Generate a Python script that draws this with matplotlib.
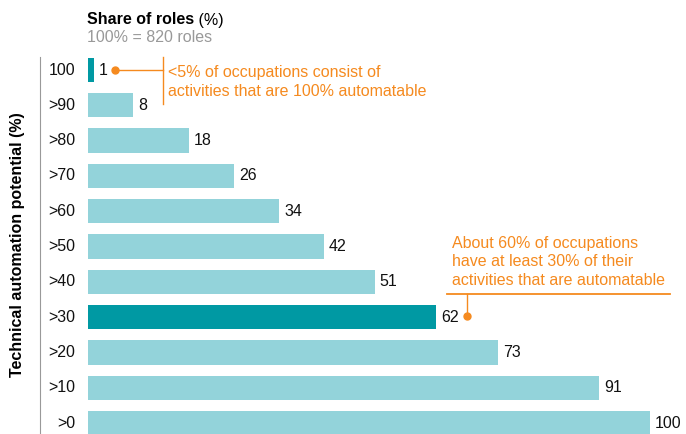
import matplotlib.pyplot as plt

plt.rcParams['font.family'] = ['Liberation Sans', 'DejaVu Sans']

# data
kategoriler = ["100", ">90", ">80", ">70", ">60", ">50", ">40", ">30", ">20", ">10", ">0"]
degerler = [1, 8, 18, 26, 34, 42, 51, 62, 73, 91, 100]
vurgulu = ["100", ">30"]

acik = "#93D3DA"
koyu = "#0099A3"
turuncu = "#F58A1F"

W, H = 686, 434
fig = plt.figure(figsize=(W / 100, H / 100), dpi=100)
fs = 11.5

# axes in pixel terms: x 88..650 for 0..100, full height
ax = fig.add_axes([88 / W, 0, (650 - 88) / W, 1])
ax.set_xlim(0, 100)
aralik = 35.3
ust = 70
ax.set_ylim((H - ust) / aralik, -ust / aralik)
ax.axis("off")

renkler = [koyu if k in vurgulu else acik for k in kategoriler]
ypos = list(range(len(kategoriler)))
ax.barh(ypos, degerler, height=0.69, color=renkler, linewidth=0)

for y, k, v in zip(ypos, kategoriler, degerler):
    ax.text(v + 0.9, y, str(v), va="center", ha="left", fontsize=fs, color="#111111")
    ax.text(-2.3, y, k, va="center", ha="right", fontsize=fs, color="#111111")


def px(x, y):
    return x / W, 1 - y / H


# gray vertical line at left
fig.add_artist(plt.Line2D([40 / W, 40 / W], [1 - 57 / H, 0], color="#999999", lw=0.8))

# axis label
fig.text(*px(18, 245), "Technical automation potential (%)", rotation=90,
         va="center", ha="center", fontsize=fs, fontweight="bold")

# header
baslik = fig.text(*px(87, 20), "Share of roles", fontsize=fs, fontweight="bold", va="center")
ax.annotate(" (%)", xy=(1, 0.5), xycoords=baslik, va="center", ha="left", fontsize=fs)
fig.text(*px(87, 38), "100% = 820 roles", fontsize=fs, color="#999999", va="center")

# annotation 1
fig.add_artist(plt.Line2D([115 / W, 163 / W], [1 - 70 / H, 1 - 70 / H], color=turuncu, lw=1))
fig.add_artist(plt.Line2D([163 / W, 163 / W], [1 - 57 / H, 1 - 104 / H], color=turuncu, lw=1))
fig.add_artist(plt.Line2D([115 / W], [1 - 70 / H], marker="o", ms=5, color=turuncu))
fig.text(*px(168, 82), "<5% of occupations consist of\nactivities that are 100% automatable",
         fontsize=fs, color=turuncu, va="center", ha="left", linespacing=1.3)

# annotation 2
fig.text(*px(452, 262), "About 60% of occupations\nhave at least 30% of their\nactivities that are automatable",
         fontsize=fs, color=turuncu, va="center", ha="left", linespacing=1.3)
fig.add_artist(plt.Line2D([447 / W, 670 / W], [1 - 294 / H, 1 - 294 / H], color=turuncu, lw=1.3))
fig.add_artist(plt.Line2D([467 / W, 467 / W], [1 - 294 / H, 1 - 316 / H], color=turuncu, lw=1))
fig.add_artist(plt.Line2D([467 / W], [1 - 316 / H], marker="o", ms=5, color=turuncu))

fig.savefig("out.png", dpi=100)
